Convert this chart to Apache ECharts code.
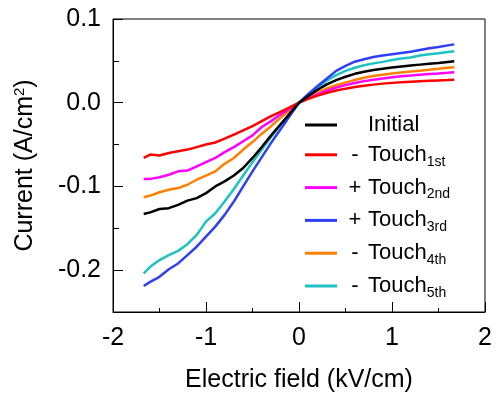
<!DOCTYPE html>
<html>
<head>
<meta charset="utf-8">
<script src="https://cdn.jsdelivr.net/npm/echarts@6/dist/echarts.min.js"></script>
<style>html,body{margin:0;padding:0;background:#fff}#c{width:496px;height:403px}</style>
</head>
<body>
<div id="c"></div>
<script>
const field = [-1.67,-1.6,-1.5,-1.4,-1.3,-1.2,-1.1,-1.0,-0.9,-0.8,-0.7,-0.6,-0.5,-0.4,-0.3,-0.2,-0.1,0,0.1,0.2,0.3,0.4,0.5,0.6,0.7,0.8,0.9,1.0,1.1,1.2,1.3,1.4,1.5,1.6,1.67];
const initial = [-0.133,-0.131,-0.127,-0.126,-0.122,-0.117,-0.114,-0.108,-0.100,-0.094,-0.087,-0.078,-0.066,-0.053,-0.039,-0.026,-0.013,0,0.008,0.0155,0.022,0.027,0.031,0.0345,0.037,0.039,0.0407,0.042,0.0433,0.0445,0.0455,0.0465,0.0475,0.0487,0.0494];
const touch1 = [-0.066,-0.062,-0.063,-0.060,-0.058,-0.056,-0.053,-0.050,-0.0475,-0.043,-0.038,-0.033,-0.028,-0.022,-0.016,-0.011,-0.0055,0,0.0045,0.0085,0.0118,0.0145,0.0168,0.0187,0.0203,0.0216,0.0228,0.0237,0.0244,0.025,0.0256,0.0261,0.0266,0.0271,0.0275];
const touch2 = [-0.091,-0.091,-0.089,-0.086,-0.082,-0.081,-0.076,-0.071,-0.066,-0.059,-0.053,-0.046,-0.039,-0.029,-0.022,-0.014,-0.007,0,0.0052,0.010,0.0145,0.018,0.021,0.0235,0.0258,0.0275,0.029,0.0303,0.0315,0.0325,0.0335,0.0343,0.035,0.0358,0.0365];
const touch3 = [-0.219,-0.214,-0.208,-0.199,-0.192,-0.182,-0.172,-0.160,-0.148,-0.134,-0.118,-0.100,-0.082,-0.065,-0.048,-0.032,-0.016,0,0.0105,0.020,0.029,0.038,0.044,0.049,0.052,0.0545,0.0565,0.058,0.0595,0.061,0.063,0.065,0.0665,0.0685,0.0697];
const touch4 = [-0.113,-0.111,-0.107,-0.104,-0.102,-0.098,-0.092,-0.087,-0.082,-0.073,-0.066,-0.056,-0.047,-0.037,-0.028,-0.018,-0.009,0,0.0062,0.0122,0.017,0.0208,0.024,0.0272,0.0298,0.0318,0.0335,0.0348,0.036,0.0372,0.0383,0.0395,0.0405,0.0418,0.0425];
const touch5 = [-0.204,-0.196,-0.188,-0.182,-0.177,-0.169,-0.158,-0.142,-0.132,-0.118,-0.103,-0.087,-0.071,-0.056,-0.041,-0.027,-0.0135,0,0.0095,0.018,0.0265,0.033,0.038,0.0418,0.0448,0.047,0.0488,0.051,0.0528,0.054,0.0565,0.0578,0.059,0.0605,0.0614];
const seriesNames = ['Initial','- Touch1st','+ Touch2nd','+ Touch3rd','- Touch4th','- Touch5th'];
const seriesSigns = ['', '-', '+', '+', '-', '-'];
const seriesSubs = ['', '1st', '2nd', '3rd', '4th', '5th'];
const seriesColors = ['#000000','#ff0000','#ff00ff','#2f3ff5','#ff8000','#1cc3c3'];
const yLabelTicks = [-0.2,-0.1,0,0.1];
const xLabelTicks = [-2,-1,0,1,2];

const allSeries = [initial, touch1, touch2, touch3, touch4, touch5];
const FONT = 'Liberation Sans, Arial, sans-serif';

const chart = echarts.init(document.getElementById('c'), null, {renderer: 'canvas'});
const option = {
  animation: false,
  backgroundColor: '#fff',
  textStyle: {fontFamily: FONT},
  grid: {left: 113, right: 11, top: 19, bottom: 91, show: true, borderColor: '#000', borderWidth: 1, backgroundColor: 'transparent'},
  legend: {
    orient: 'vertical',
    left: 300,
    top: 109,
    itemWidth: 32,
    itemHeight: 3,
    itemGap: 4.8,
    icon: 'rect',
    data: seriesNames,
    formatter: function (name) {
      const i = seriesNames.indexOf(name);
      if (i === 0) return '{p| }{t|Initial}';
      return '{p|' + seriesSigns[i] + '}{t|Touch}{s|' + seriesSubs[i] + '}';
    },
    textStyle: {
      fontFamily: FONT,
      color: '#000',
      rich: {
        p: {fontSize: 22, width: 26, align: 'center', fontFamily: FONT, lineHeight: 26},
        t: {fontSize: 22, fontFamily: FONT, lineHeight: 26},
        s: {fontSize: 14, fontFamily: FONT, lineHeight: 26, padding: [14, 0, 0, 0]}
      }
    }
  },
  xAxis: [{
    type: 'value', min: -2, max: 2, interval: 1,
    name: 'Electric field (kV/cm)', nameLocation: 'middle', nameGap: 56,
    nameTextStyle: {fontSize: 25, fontFamily: FONT, color: '#000'},
    axisLine: {show: true, onZero: false, lineStyle: {color: '#000', width: 1}},
    axisTick: {show: true, inside: true, length: 10, lineStyle: {color: '#000', width: 1}},
    axisLabel: {show: true, fontSize: 25, color: '#000', fontFamily: FONT, margin: 14,
      customValues: xLabelTicks,
      formatter: v => String(Math.round(v))},
    splitLine: {show: false}
  }, {
    type: 'value', min: -2, max: 2, interval: 0.5, position: 'bottom',
    axisLine: {show: false, onZero: false},
    axisTick: {show: true, inside: true, length: 4, lineStyle: {color: '#000', width: 1}},
    axisLabel: {show: false},
    splitLine: {show: false}
  }],
  yAxis: [{
    type: 'value', min: -0.25, max: 0.1, interval: 0.05,
    name: 'Current (A/cm{sup|2})', nameLocation: 'middle', nameGap: 74,
    nameTextStyle: {fontSize: 25, fontFamily: FONT, color: '#000',
      rich: {sup: {fontSize: 15, fontFamily: FONT, verticalAlign: 'top', padding: [0, 0, 12, 0]}}},
    axisLine: {show: true, onZero: false, lineStyle: {color: '#000', width: 1}},
    axisTick: {show: true, inside: true, length: 10, customValues: yLabelTicks, lineStyle: {color: '#000', width: 1}},
    axisLabel: {show: true, fontSize: 25, color: '#000', fontFamily: FONT, margin: 12,
      customValues: yLabelTicks,
      formatter: function (v) {
        if (Math.abs(v * 10 - Math.round(v * 10)) > 1e-6) return '';
        if (Math.abs(v) < 1e-9) return '0.0';
        return v.toFixed(1);
      }},
    splitLine: {show: false}
  }, {
    type: 'value', min: -0.25, max: 0.1, interval: 0.05, position: 'left',
    axisLine: {show: false, onZero: false},
    axisTick: {show: true, inside: true, length: 6, lineStyle: {color: '#000', width: 1}},
    axisLabel: {show: false},
    splitLine: {show: false}
  }],
  series: allSeries.map((vals, i) => ({
    name: seriesNames[i],
    type: 'line',
    xAxisIndex: 0,
    yAxisIndex: 0,
    showSymbol: false,
    symbol: 'none',
    smooth: false,
    color: seriesColors[i],
    lineStyle: {width: 2.5, color: seriesColors[i]},
    data: field.map((x, j) => [x, vals[j]])
  })).reverse()
};
chart.setOption(option);
</script>
</body>
</html>
